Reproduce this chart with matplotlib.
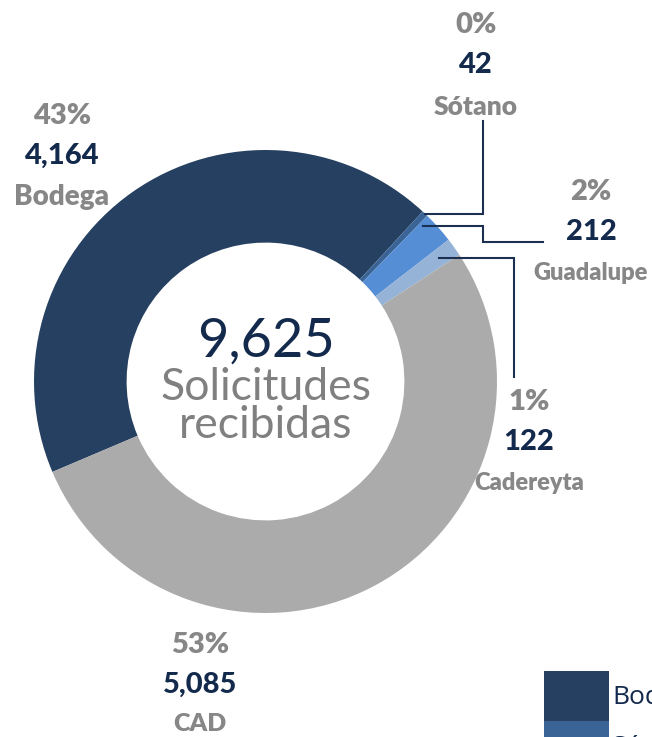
"""donut: solicitudes recibidas por sede"""

import numpy as np
import matplotlib.pyplot as plt

# data
categories = ['Bodega', 'Sótano', 'Guadalupe', 'Cadereyta', 'CAD']
values = [4164, 42, 212, 122, 5085]
colors = ['#264061', '#3b6496', '#558ed5', '#95b3d7', '#ababab']
total = sum(values)

# figure size in pixels and donut centre / radius in pixels
W, H = 652, 737
CX, CY, R = 265.5, 381.5, 231.5

NAVY = '#132a4c'
GRAY = '#878787'
LINE = '#1b2f50'


def px(x, y):
    """pixel position (from top-left) -> data units of the pie axes"""
    return (x - CX) / R, (CY - y) / R


fig = plt.figure(figsize=(W / 100, H / 100), dpi=100)
ax = fig.add_axes([0, 0, 1, 1])
wedges, _ = ax.pie(values, colors=colors, startangle=203, counterclock=False,
                   radius=1, wedgeprops=dict(width=0.4, linewidth=0))
ax.set_aspect('auto')
ax.set_xlim(-CX / R, (W - CX) / R)
ax.set_ylim((CY - H) / R, CY / R)
ax.axis('off')

# centre text
ax.text(*px(266, 357), f"{total:,}", ha='center', va='baseline', fontsize=39,
        color=NAVY, family='Lato')
ax.text(*px(266, 400), "Solicitudes", ha='center', va='baseline', fontsize=32,
        color='#808080', family='Lato')
ax.text(*px(266, 438), "recibidas", ha='center', va='baseline', fontsize=32,
        color='#808080', family='Lato')

# label layout: centre x, y of the percent line, size of the name, name offset
label_pos = {
    'Bodega':    (62, 116, 20, 81),
    'Sótano':    (476, 25, 19, 82),
    'Guadalupe': (591, 192, 17, 81),
    'Cadereyta': (529, 402, 17, 81),
    'CAD':       (200, 645, 18, 79),
}
for cat, val in zip(categories, values):
    x, y, s, off = label_pos[cat]
    ax.text(*px(x, y), f"{val / total:.0%}", ha='center', va='center',
            fontsize=21, color=GRAY, family='Lato', fontweight='heavy')
    ax.text(*px(x, y + 40), f"{val:,}", ha='center', va='center',
            fontsize=21, color=NAVY, family='Lato', fontweight='black')
    ax.text(*px(x, y + off), cat, ha='center', va='center',
            fontsize=s, color=GRAY, family='Lato', fontweight='heavy')

# leader lines for the small slices:
# (position along the wedge, start radius, elbow points in px)
leaders = {
    'Sótano':    (0.5, 1.0,  [(483, None), (483, 121)]),
    'Guadalupe': (0.86, 0.955, [(483, None), (483, 242), (543, 242)]),
    'Cadereyta': (0.5, 0.92, [(514, None), (514, 377)]),
}
for cat, (frac, r, pts) in leaders.items():
    w = wedges[categories.index(cat)]
    ang = np.deg2rad(w.theta1 + frac * (w.theta2 - w.theta1))
    x0, y0 = r * np.cos(ang), r * np.sin(ang)
    xs, ys = [x0], [y0]
    for ex, ey in pts:
        dx, dy = px(ex, ey if ey is not None else 0)
        xs.append(dx)
        ys.append(y0 if ey is None else dy)
    ax.plot(xs, ys, color=LINE, lw=1.5, solid_joinstyle='miter')

# legend (partly cut off by the figure edge, as in the original)
leg = fig.legend(wedges, categories, loc='upper left',
                 bbox_to_anchor=(544 / W, 1 - 671 / H), frameon=False,
                 handlelength=2.48, handleheight=2.52,
                 labelspacing=0, handletextpad=0.1, borderpad=0,
                 borderaxespad=0, prop={'family': 'Open Sans', 'size': 19})
for t in leg.get_texts():
    t.set_color(NAVY)

fig.savefig('out.png', dpi=100)
